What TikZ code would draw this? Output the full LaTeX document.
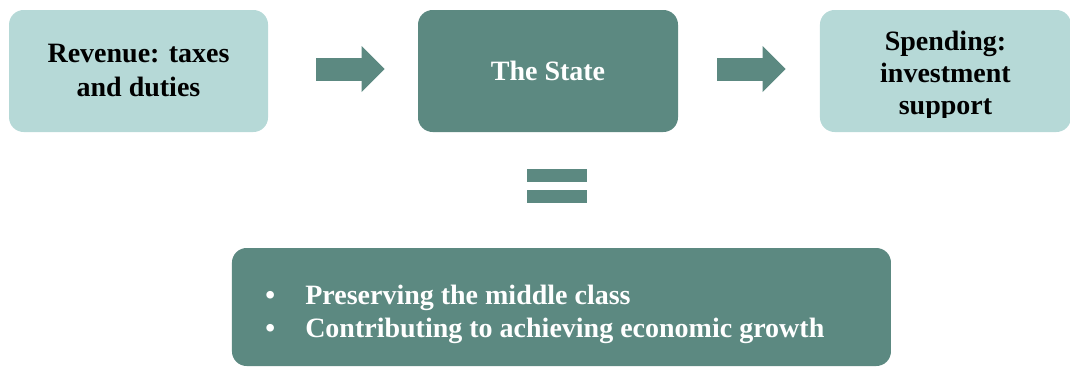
\documentclass[tikz,border=0pt]{standalone}
\usepackage{fontspec}
\setmainfont{Liberation Serif}
\usetikzlibrary{positioning,arrows.meta,calc}
\definecolor{cLight}{HTML}{B6D9D7}
\definecolor{cDark}{HTML}{5C8981}
\tikzset{
  box/.style={rounded corners=11pt, minimum height=91.5pt, inner sep=4pt,
              align=center, font=\bfseries\fontsize{21pt}{25.5pt}\selectfont},
  boxLight/.style={box, fill=cLight, text=black},
  boxDark/.style={box, fill=cDark, text=white},
  blockArrow/.style={draw=cDark, line width=17.25pt,
              -{Triangle[length=17.25pt, width=34.5pt, line width=0pt]}},
  eqBar/.style={fill=cDark, minimum width=45pt, minimum height=9.75pt, inner sep=0pt},
  item/.style={text=white, anchor=base west, inner sep=0pt,
              font=\bfseries\fontsize{21pt}{24.75pt}\selectfont},
}

\begin{document}
\begin{tikzpicture}
\useasboundingbox (0,0) rectangle (802.5pt,-276pt);

% ========== TOP ROW ==========
\node[boxLight, minimum width=194.25pt] (rev) at (103.9pt,-53.25pt)
  {Revenue: taxes\\ and duties};
\node[boxDark, minimum width=195pt] (state) at (411pt,-53.25pt) {The State};
\node[boxLight, minimum width=188.25pt] (spend) at (709.1pt,-53.25pt) {};
\begin{scope}
  \clip (spend.north west) rectangle (spend.east |- 0,-87.75pt);
  \node[box, text=black, font=\bfseries\fontsize{21pt}{24pt}\selectfont] (spendTxt)
    at ([yshift=-3.4pt]spend.center) {Spending:\\ investment\\ support};
\end{scope}

% block arrows
\draw[blockArrow] ([shift={(36pt,1.5pt)}]rev.east) -- ([shift={(-24.75pt,1.5pt)}]state.west);
\draw[blockArrow] ([shift={(29.25pt,1.5pt)}]state.east) -- ([shift={(-25.5pt,1.5pt)}]spend.west);

% ========== EQUALS ==========
\node[eqBar] (eqTop) at (417.75pt,-131.6pt) {};
\node[eqBar, below=5.5pt of eqTop] (eqBot) {};

% ========== GOALS ==========
\node[boxDark, minimum width=494.25pt, minimum height=88.5pt] (goals) at (421.1pt,-230.25pt) {};
\node[item] (item1) at (228.75pt,-228pt)
  {\llap{\textbullet\hspace{22.5pt}}Preserving the middle class};
\node[item] (item2) at (228.75pt,-252.75pt)
  {\llap{\textbullet\hspace{22.5pt}}Contributing to achieving economic growth};

\end{tikzpicture}
\end{document}
